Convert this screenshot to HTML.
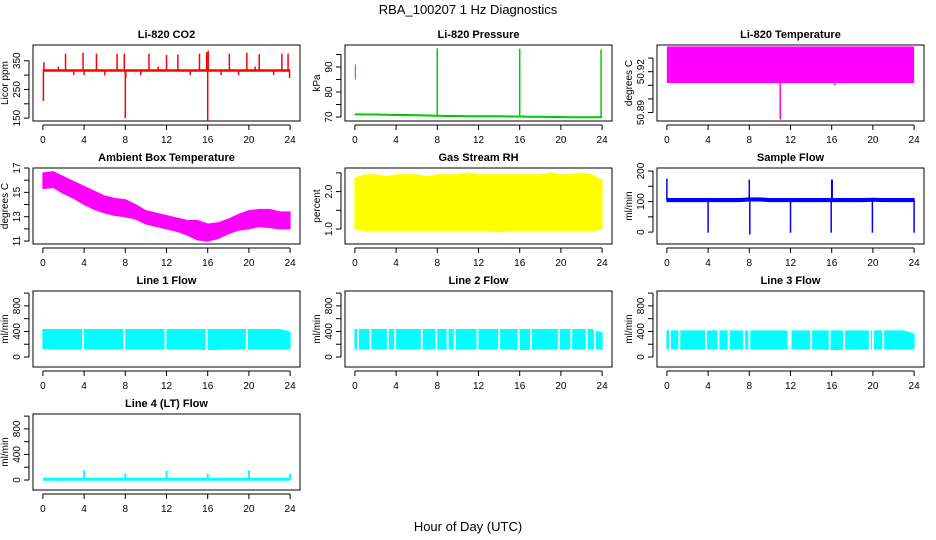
<!DOCTYPE html>
<html><head><meta charset="utf-8">
<style>
body{margin:0;background:#fff;}
svg{display:block;font-family:"Liberation Sans",Arial,sans-serif;}
</style></head>
<body>
<svg id="chart" width="936" height="540" viewBox="0 0 936 540">
<text x="468" y="14" text-anchor="middle" font-size="13">RBA_100207  1 Hz Diagnostics</text>
<text x="468" y="531" text-anchor="middle" font-size="13">Hour of Day (UTC)</text>
</svg>
<script>
// ---- data ----
const hours = [0,1,2,3,4,5,6,7,8,9,10,11,12,13,14,15,16,17,18,19,20,21,22,23,24];
const xTicks = [0,4,8,12,16,20,24];

const co2Base = [316,316,316,316,316,316,316,316,316,316,316,316,316,316,316,316,316,316,316,316,316,316,316,316,316];
const co2SpikeHours = [0.05,0.1,2.2,3.9,4.0,5.2,7.2,7.9,8.0,8.05,10.3,12.0,13.1,15.2,15.9,16.0,16.05,18.1,19.8,21.0,23.2,23.8,23.95,1.5,3.0,6.0,9.5,11.2,14.3,17.3,19.0,20.6,22.4];
const co2SpikeVals = [210,345,375,378,300,375,375,375,150,290,375,370,372,375,380,140,385,375,378,373,375,375,290,330,300,300,300,330,300,300,300,330,300];

const presBase = [71.1,71.0,71.0,70.9,70.8,70.8,70.7,70.6,70.5,70.4,70.4,70.3,70.3,70.3,70.3,70.2,70.2,70.1,70.1,70.0,70.0,69.9,69.9,69.9,69.9];
const presSpikeHours = [8.0,16.0,23.9];
const presSpikeVals = [97.5,97.3,97.0];
const presSegHour = [0.05];
const presSegLow = [85];
const presSegHigh = [91];

const tempLow = [50.9117];
const tempHigh = [50.9385];
const tempSpikeHours = [11.0,16.3];
const tempSpikeVals = [50.885,50.910];

const ambLow = [15.3,15.4,14.9,14.5,14.0,13.6,13.3,13.1,13.0,12.8,12.4,12.2,12.0,11.8,11.5,11.1,11.0,11.2,11.6,11.9,12.0,12.2,12.1,12.0,12.0];
const ambHigh = [16.6,16.7,16.3,15.9,15.5,15.1,14.7,14.5,14.4,14.0,13.5,13.3,13.1,12.9,12.7,12.7,12.4,12.5,12.8,13.2,13.5,13.6,13.6,13.4,13.4];

const rhLow = [1.0,0.95,0.95,0.95,0.95,0.95,0.95,0.95,0.95,0.95,0.95,0.95,0.95,0.95,0.92,0.95,0.95,0.95,0.95,0.95,0.95,0.95,0.95,0.95,1.0];
const rhHigh = [2.35,2.45,2.45,2.4,2.45,2.45,2.45,2.4,2.45,2.45,2.45,2.5,2.45,2.45,2.45,2.45,2.45,2.45,2.45,2.5,2.45,2.45,2.5,2.45,2.3];

const flowBase = [105,105,105,105,105,105,105,105,107,107,105,105,105,105,105,105,105,105,105,105,106,105,105,105,105];
const flowSpikeHours = [0.0,8.0,16.0,16.05,4.0,8.05,12.0,15.95,19.95,24.0];
const flowSpikeVals = [175,172,172,172,-2,-8,-2,-2,-2,-2];

const l1Low = [130,125,125,125,125,125,125,125,125,125,125,125,125,125,125,125,115,120,125,125,125,125,125,125,130];
const l1High = [430,430,430,430,430,430,430,430,430,430,430,430,430,430,430,430,430,430,430,430,430,430,430,430,390];
const l1Gaps = [3.9,7.9,11.9,15.9,19.8];
const l2Low = l1Low.slice();
const l2High = [430,430,430,430,430,430,430,430,430,430,430,430,430,430,430,430,430,430,430,430,430,430,430,430,380];
const l2Gaps = [0.3,1.5,3.2,3.9,6.5,7.9,9.0,9.7,11.9,14.0,15.9,17.1,19.8,21.0,22.5,23.3];
const l3Low = l1Low.slice();
const l3High = [410,410,410,410,410,410,410,410,410,410,410,410,410,410,410,410,410,410,410,410,410,410,410,410,360];
const l3Gaps = [0.3,1.2,3.8,5.0,6.0,7.5,8.0,11.8,12.0,14.0,15.8,17.2,19.7,20.0,21.0];
const l4Base = [12,12,12,12,12,12,12,12,12,12,12,12,12,12,12,12,12,12,12,12,12,12,12,12,12];
const l4SpikeHours = [4.0,8.0,12.0,16.0,20.0,24.0,1.9];
const l4SpikeVals = [150,100,150,100,150,100,-15];

// ---- layout ----
const NS = "http://www.w3.org/2000/svg";
const svg = document.getElementById('chart');
const cols = [33,345,657], colW = 267;
const rows = [45,168,291,414], rowH = 76;
function mk(tag, attrs, parent){const e=document.createElementNS(NS,tag);for(const k in attrs)e.setAttribute(k,attrs[k]);(parent||svg).appendChild(e);return e;}

function panel(col,row,title,ylab,ymin,ymax,yTicks,yLabels,name){
  const g = mk('g',{});
  
  
  const L=cols[col], T=rows[row], W=colW, H=rowH;
  const xs = h => L + (h + 0.96) / 25.92 * W;
  const ys = v => T + H - (v - ymin) / (ymax - ymin) * H;
  const t = mk('text',{x:L+W/2,y:T-7,'text-anchor':'middle','font-size':'11','font-weight':'bold'},g);
  t.textContent = title;
  
  
  const box = mk('rect',{x:L,y:T,width:W,height:H,fill:'none',stroke:'#000','stroke-width':'1'},g);
  
  
  const xa = mk('g',{},g);
  
  
  mk('line',{x1:xs(0),x2:xs(24),y1:T+H+4,y2:T+H+4,stroke:'#000'},xa);
  xTicks.forEach(v=>{
    mk('line',{x1:xs(v),x2:xs(v),y1:T+H+4,y2:T+H+9,stroke:'#000'},xa);
    const tx=mk('text',{x:xs(v),y:T+H+22,'text-anchor':'middle','font-size':'10'},xa);
    tx.textContent=v;
    
    
  });
  const ya = mk('g',{},g);
  
  
  mk('line',{x1:L-4,x2:L-4,y1:ys(yTicks[0]),y2:ys(yTicks[yTicks.length-1]),stroke:'#000'},ya);
  yTicks.forEach(v=>{mk('line',{x1:L-4,x2:L-9,y1:ys(v),y2:ys(v),stroke:'#000'},ya);});
  yLabels.forEach(v=>{
    const y=ys(v), x=L-13;
    const tx=mk('text',{x:x,y:y,'text-anchor':'middle','font-size':'10',transform:`rotate(-90 ${x} ${y})`},ya);
    tx.textContent = v;
    
    
  });
  const yx=L-25, yy=T+H/2;
  const yt=mk('text',{x:yx,y:yy,'text-anchor':'middle','font-size':'10',transform:`rotate(-90 ${yx} ${yy})`},g);
  yt.textContent=ylab;
  
  
  return {g,xs,ys,L,T,W,H};
}

function band(p,low,high,color,name){
  let d='M'+hours.map((h,i)=>p.xs(h)+','+p.ys(high[i])).join('L');
  d+='L'+hours.slice().reverse().map((h,j)=>p.xs(h)+','+p.ys(low[hours.length-1-j])).join('L')+'Z';
  const e=mk('path',{d:d,fill:color,stroke:color,'stroke-width':'1'},p.g);
  
  
}
function line(p,vals,color,w,name){
  const e=mk('polyline',{points:hours.map((h,i)=>p.xs(h)+','+p.ys(vals[i])).join(' '),fill:'none',stroke:color,'stroke-width':w},p.g);
  
  
}
function spikes(p,hs,vs,base,color,w,name){
  hs.forEach((h,i)=>{
    const b = Array.isArray(base)? base[Math.round(h)] : base;
    const e=mk('line',{x1:p.xs(h),x2:p.xs(h),y1:p.ys(b),y2:p.ys(vs[i]),stroke:color,'stroke-width':w},p.g);
    
    
  });
}
function gaps(p,hs,low,high,name){
  hs.forEach(h=>{
    const e=mk('line',{x1:p.xs(h),x2:p.xs(h),y1:p.ys(high[Math.round(h)]+5),y2:p.ys(low[Math.round(h)]-5),stroke:'#fff','stroke-width':2},p.g);
    
    
  });
}

let p=panel(0,0,'Li-820 CO2','Licor ppm',140,405,[150,200,250,300,350],[150,250,350],'co2');
line(p,co2Base,'#f00',2.5,'co2-line');
spikes(p,co2SpikeHours,co2SpikeVals,co2Base,'#f00',1.5,'co2-spike');
p=panel(1,0,'Li-820 Pressure','kPa',68.4,98.8,[70,75,80,85,90,95],[70,80,90],'pressure');
line(p,presBase,'#0c0',2,'pressure-line');
spikes(p,presSpikeHours,presSpikeVals,presBase,'#0c0',1.5,'pressure-spike');
spikes(p,presSegHour,presSegHigh,presSegLow[0],'#0c0',1.2,'pressure-segment');
p=panel(2,0,'Li-820 Temperature','degrees C',50.8838,50.9396,[50.89,50.90,50.91,50.92,50.93],[50.89,50.92],'li-temp');
(function(){const e=mk('rect',{x:p.xs(0),y:p.ys(tempHigh[0]),width:p.xs(24)-p.xs(0),height:p.ys(tempLow[0])-p.ys(tempHigh[0]),fill:'#f0f'},p.g);

})();
spikes(p,tempSpikeHours,tempSpikeVals,tempLow[0],'#f0f',1.5,'li-temp-spike');
p=panel(0,1,'Ambient Box Temperature','degrees C',10.76,17,[11,12,13,14,15,16,17],[11,13,15,17],'ambient');
band(p,ambLow,ambHigh,'#f0f','ambient-band');
p=panel(1,1,'Gas Stream RH','percent',0.6,2.63,[1.0,1.5,2.0,2.5],['1.0','2.0'],'rh');
band(p,rhLow,rhHigh,'#ff0','rh-band');
p=panel(2,1,'Sample Flow','ml/min',-39,210,[0,50,100,150,200],[0,100,200],'sample-flow');
band(p,flowBase.map(v=>v-5),flowBase.map(v=>v+5),'#00f','sample-flow-band');
spikes(p,flowSpikeHours,flowSpikeVals,flowBase,'#00f',1.5,'sample-flow-spike');
const lt=[0,200,400,600,800,1000], ll=[0,400,800];
p=panel(0,2,'Line 1 Flow','ml/min',-156,1033,lt,ll,'line1');
band(p,l1Low,l1High,'#0ff','line1-band'); gaps(p,l1Gaps,l1Low,l1High,'line1-gap');
p=panel(1,2,'Line 2 Flow','ml/min',-156,1033,lt,ll,'line2');
band(p,l2Low,l2High,'#0ff','line2-band'); gaps(p,l2Gaps,l2Low,l2High,'line2-gap');
p=panel(2,2,'Line 3 Flow','ml/min',-156,1033,lt,ll,'line3');
band(p,l3Low,l3High,'#0ff','line3-band'); gaps(p,l3Gaps,l3Low,l3High,'line3-gap');
p=panel(0,3,'Line 4 (LT) Flow','ml/min',-156,1033,lt,ll,'line4');
line(p,l4Base,'#0ff',3,'line4-line');
spikes(p,l4SpikeHours,l4SpikeVals,l4Base,'#0ff',2,'line4-spike');
</script>
</body></html>
